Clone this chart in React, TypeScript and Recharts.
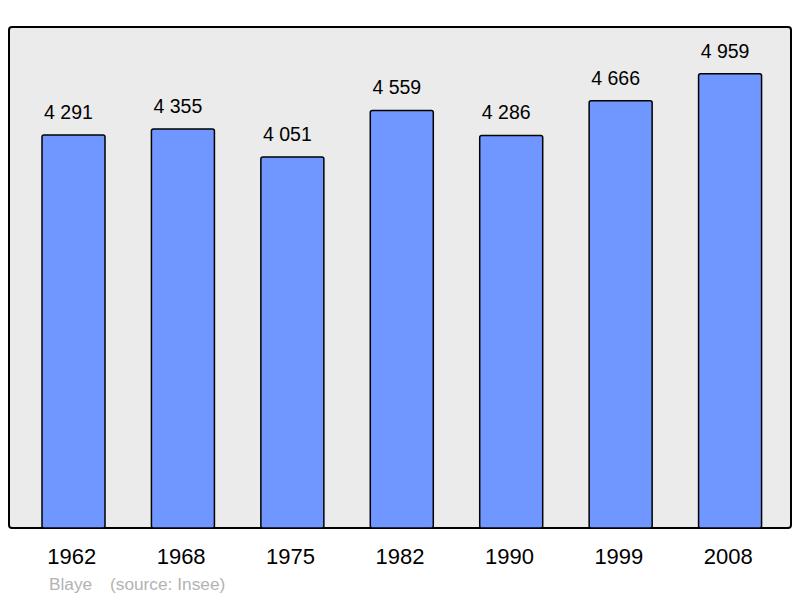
import { BarChart, Bar, XAxis, YAxis, ReferenceArea, LabelList } from 'recharts';

const years = ['1962', '1968', '1975', '1982', '1990', '1999', '2008'];
const population = [4291, 4355, 4051, 4559, 4286, 4666, 4959];

const data = years.map((year, i) => ({ year, value: population[i] }));

const fmt = (v: number) => String(v).replace(/\B(?=(\d{3})+(?!\d))/g, ' ');

const FONT = '"Liberation Sans", Arial, sans-serif';
const LAST = years.length - 1;

// value above each bar, nudged a little left like the original
const ValueLabel = (props: any) => {
  const { x, y, width, value } = props;
  return (
    <text x={Number(x) + Number(width) / 2 - 5} y={Number(y) - 16} textAnchor="middle" fontSize={19.5} fontFamily={FONT} fill="#000">
      {fmt(Number(value))}
    </text>
  );
};

export default function App() {
  return (
    <div style={{ position: 'absolute', left: 0, top: 0, width: 800, height: 598, fontFamily: FONT }}>
      <BarChart width={800} height={598} data={data} margin={{ top: 27, right: 9, left: 9, bottom: 30 }}>
        <XAxis xAxisId="bg" type="number" domain={[0, LAST]} allowDataOverflow hide />
        <XAxis
          dataKey="year"
          height={40}
          padding={{ left: 10, right: 6 }}
          axisLine={false}
          tickLine={false}
          tickSize={0}
          tickMargin={20}
          tick={{ fontSize: 22, fill: '#000', fontFamily: FONT, dx: -2 }}
          interval={0}
        />
        <YAxis hide domain={[0, 5470]} />
        <ReferenceArea
          xAxisId="bg"
          x1={0}
          x2={LAST}
          y1={0}
          y2={5470}
          fill="#ebebeb"
          fillOpacity={1}
          stroke="#000"
          strokeWidth={2}
          radius={3}
        />
        <Bar dataKey="value" barSize={63} fill="#7096ff" stroke="#000" strokeWidth={1.5} radius={2} isAnimationActive={false}>
          <LabelList dataKey="value" content={ValueLabel} />
        </Bar>
      </BarChart>
      <div style={{ position: 'absolute', left: 49, top: 576, fontSize: 17.3, lineHeight: 1, color: '#b3b3b3' }}>Blaye</div>
      <div style={{ position: 'absolute', left: 110, top: 576, fontSize: 17.3, lineHeight: 1, color: '#b3b3b3' }}>(source: Insee)</div>
    </div>
  );
}
